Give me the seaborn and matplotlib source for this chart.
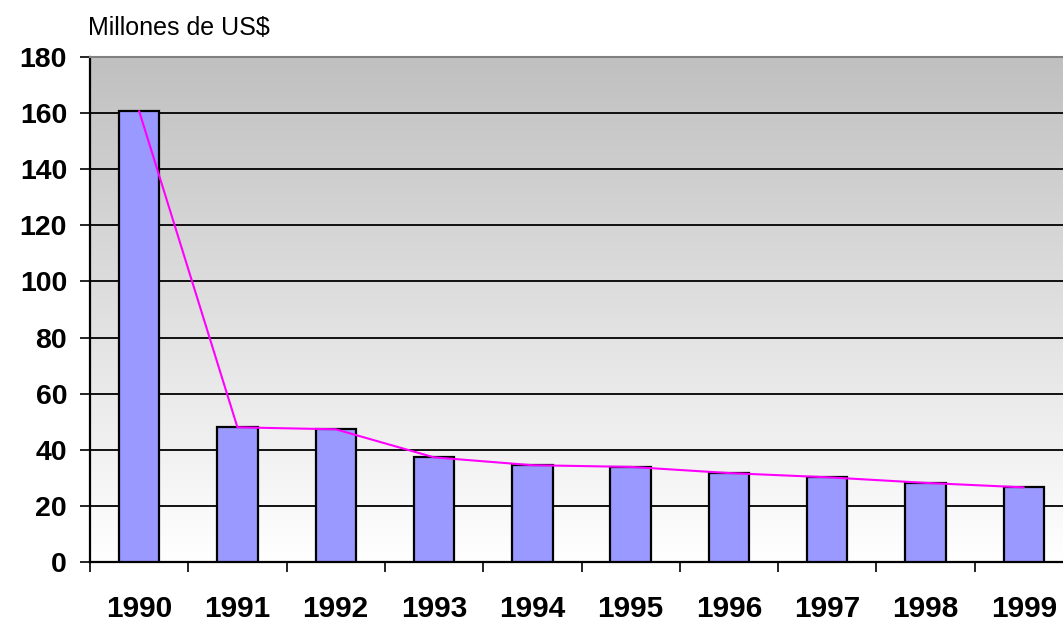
import numpy as np
import pandas as pd
import matplotlib
matplotlib.use("Agg")
import matplotlib.pyplot as plt
from matplotlib.colors import LinearSegmentedColormap
import seaborn as sns

years = ["1990", "1991", "1992", "1993", "1994", "1995", "1996", "1997", "1998", "1999"]
values = [160.7, 48.0, 47.3, 37.3, 34.5, 33.9, 31.7, 30.2, 28.2, 26.6]
y_ticks = [0, 20, 40, 60, 80, 100, 120, 140, 160, 180]
unit_label = "Millones de US$"

sns.set_theme(style="white")
plt.rcParams['font.family'] = ['Liberation Sans', 'DejaVu Sans']
plt.rcParams['text.color'] = 'black'

W, H = 1063, 624
fig = plt.figure(figsize=(W / 100, H / 100), dpi=100)
left, right, top, bottom = 90, 1073, 57, 562
ax = fig.add_axes([left / W, (H - bottom) / H, (right - left) / W, (bottom - top) / H])

df = pd.DataFrame({"year": years, "value": values})

# gradient background
cmap = LinearSegmentedColormap.from_list("bg", ["#ffffff", "#c0c0c0"])
grad = np.linspace(0, 1, 256).reshape(-1, 1)
ax.imshow(grad, extent=[-0.5, 9.5, 0, 180], origin="lower", aspect="auto",
          cmap=cmap, zorder=0, interpolation="bicubic")

sns.barplot(data=df, x="year", y="value", color="#9999ff", saturation=1,
            width=0.41, edgecolor="black", linewidth=1.6, ax=ax, zorder=3)
sns.lineplot(x=np.arange(len(years)), y=values, color="#ff00ff", linewidth=1.5,
             ax=ax, zorder=4)

ax.set_xlim(-0.5, 9.5)
ax.set_ylim(0, 180)
ax.set_yticks(y_ticks)
ax.set_yticklabels([str(v) for v in y_ticks], fontsize=20.5, fontweight="bold", color="black")
ax.set_xticks(range(len(years)))
ax.set_xticklabels(years, fontsize=21.5, fontweight="bold", color="black")
ax.set_xticks(np.arange(-0.5, 9.5, 1.0), minor=True)
ax.tick_params(axis="x", which="major", length=0, pad=24, bottom=True)
ax.tick_params(axis="x", which="minor", length=7.5, width=1.2, color="black",
               direction="out", bottom=True)
ax.tick_params(axis="y", length=7.5, width=1.2, color="black", direction="out", pad=9, left=True)

for v in y_ticks[1:-1]:
    ax.axhline(v, color="black", linewidth=1.3, zorder=1)

ax.set_xlabel("")
ax.set_ylabel("")
ax.grid(False)
ax.spines["left"].set_color("black")
ax.spines["left"].set_linewidth(1.6)
ax.spines["bottom"].set_color("black")
ax.spines["bottom"].set_linewidth(1.6)
ax.spines["top"].set_color("#808080")
ax.spines["top"].set_linewidth(1.5)
ax.spines["right"].set_visible(False)

fig.text(88 / W, 1 - 28 / H, unit_label, fontsize=18, ha="left", va="center", color="black")

fig.savefig("out.png", dpi=100)
